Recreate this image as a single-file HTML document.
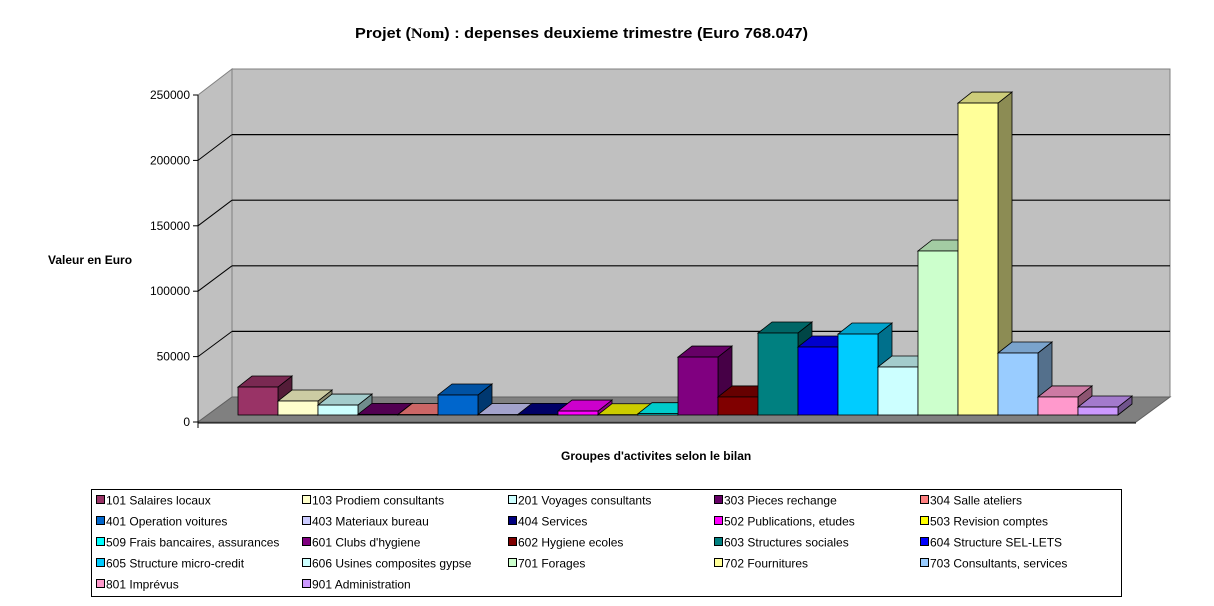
<!DOCTYPE html>
<html><head><meta charset="utf-8">
<style>
body{margin:0;background:#fff;}
svg{display:block;font-family:"Liberation Sans",Arial,sans-serif;}
</style></head>
<body>
<svg id="chart" width="1214" height="606" viewBox="0 0 1214 606" xmlns="http://www.w3.org/2000/svg">
<text x="355" y="38" font-size="15" font-weight="bold" textLength="453" lengthAdjust="spacingAndGlyphs">Projet (<tspan font-family="Liberation Serif,serif">Nom</tspan>) : depenses deuxieme trimestre (Euro 768.047)</text>
<text x="48" y="264" font-size="12" font-weight="bold">Valeur en Euro</text>
<text x="561" y="460" font-size="12" font-weight="bold">Groupes d'activites selon le bilan</text>
<g id="plot"></g>
<rect x="91.5" y="489.5" width="1030" height="107" fill="#fff" stroke="#000"/>
<g id="legend"></g>
</svg>
<script>
const categories=["101 Salaires locaux","103 Prodiem consultants","201 Voyages consultants","303 Pieces rechange","304 Salle ateliers","401 Operation voitures","403 Materiaux bureau","404 Services","502 Publications, etudes","503 Revision comptes","509 Frais bancaires, assurances","601 Clubs d'hygiene","602 Hygiene ecoles","603 Structures sociales","604 Structure SEL-LETS","605 Structure micro-credit","606 Usines composites gypse","701 Forages","702 Fournitures","703 Consultants, services","801 Imprévus","901 Administration"];
const values=[21400,10700,7600,500,300,15300,300,500,3000,200,1000,44300,13800,62700,52000,61900,36700,125400,238500,47400,13800,6100];
const colors=["#993366","#FFFFCC","#CCFFFF","#660066","#FF8080","#0066CC","#CCCCFF","#000080","#FF00FF","#FFFF00","#00FFFF","#800080","#800000","#008080","#0000FF","#00CCFF","#CCFFFF","#CCFFCC","#FFFF99","#99CCFF","#FF99CC","#CC99FF"];
const yTicks=[0,50000,100000,150000,200000,250000];
const NS="http://www.w3.org/2000/svg";
const plot=document.getElementById('plot');
const legend=document.getElementById('legend');
function mk(tag,attrs,parent){const e=document.createElementNS(NS,tag);for(const k in attrs)e.setAttribute(k,attrs[k]);parent.appendChild(e);return e;}
function shade(hex,f){const n=parseInt(hex.slice(1),16);const r=Math.round(((n>>16)&255)*f),g=Math.round(((n>>8)&255)*f),b=Math.round((n&255)*f);return `rgb(${r},${g},${b})`;}
const DX=34,DY=-25,maxV=250000;
const frontY=v=>422-v*(422-95)/maxV;
const backY=v=>397-v*(397-69)/maxV;
const barY=v=>415-v*(422-95)/maxV;
// walls
let w=mk('rect',{x:232,y:69,width:938,height:328,fill:'#C0C0C0',stroke:'#808080'},plot);


w=mk('polygon',{points:`198,95 232,69 232,397 198,422`,fill:'#C0C0C0',stroke:'#808080'},plot);


w=mk('polygon',{points:`198,422 1136,422 1170,397 232,397`,fill:'#808080',stroke:'#606060'},plot);


yTicks.forEach(t=>{
  if(t>0&&t<maxV){
    const g=mk('line',{x1:232,y1:backY(t),x2:1170,y2:backY(t),stroke:'#000','stroke-width':1.2},plot);
    
    
    const d=mk('line',{x1:198,y1:frontY(t),x2:232,y2:backY(t),stroke:'#000','stroke-width':1},plot);
    
    
  }
  const tk=mk('line',{x1:193,y1:frontY(t),x2:198,y2:frontY(t),stroke:'#000'},plot);
  
  
  const lb=mk('text',{x:190,y:frontY(t)+4,'font-size':12,'text-anchor':'end'},plot);
  lb.textContent=String(t);
  
  
});
let ax=mk('line',{x1:198,y1:95,x2:198,y2:428,stroke:'#000'},plot);


ax=mk('line',{x1:198,y1:423,x2:1136,y2:423,stroke:'#000'},plot);


// bars
const bdx=14,bdy=-11,bw=40;
values.forEach((v,i)=>{
  const x=238+i*bw,top=barY(v),bot=415,c=colors[i];
  const g=mk('g',{},plot);
  
  
  mk('polygon',{points:`${x+bw},${top} ${x+bw+bdx},${top+bdy} ${x+bw+bdx},${bot+bdy} ${x+bw},${bot}`,fill:shade(c,0.55),stroke:'#000','stroke-width':0.8},g);
  mk('polygon',{points:`${x},${top} ${x+bdx},${top+bdy} ${x+bw+bdx},${top+bdy} ${x+bw},${top}`,fill:shade(c,0.8),stroke:'#000','stroke-width':0.8},g);
  mk('rect',{x:x,y:top,width:bw,height:bot-top,fill:c,stroke:'#000','stroke-width':0.8},g);
});
// legend
const colX=[96,302,508,714,920];
categories.forEach((name,i)=>{
  const r=Math.floor(i/5),col=i%5,x=colX[col],y=500+r*21;
  const g=mk('g',{},legend);
  
  
  mk('rect',{x:x+0.5,y:y-4.5,width:8,height:8,fill:colors[i],stroke:'#000'},g);
  const t=mk('text',{x:x+10,y:y+4.5,'font-size':12},g);
  t.textContent=name;
});
</script>
</body></html>
